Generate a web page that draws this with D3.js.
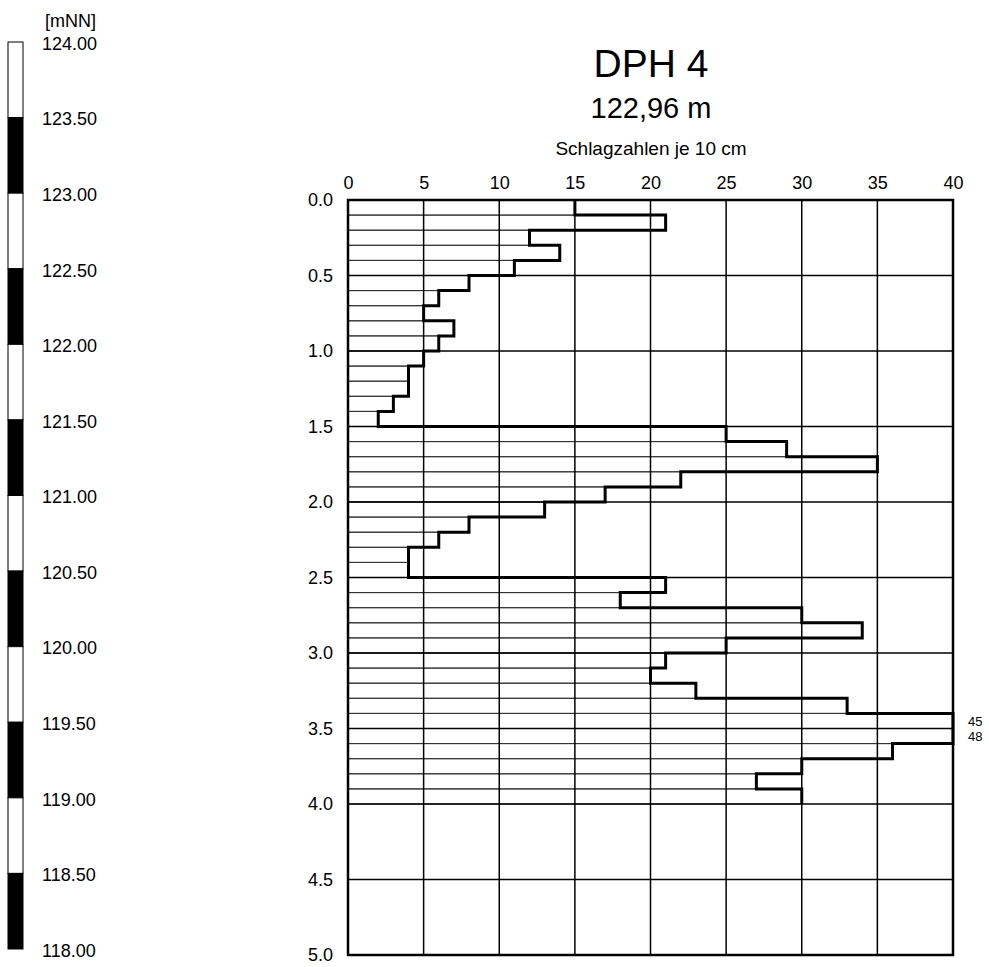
<!DOCTYPE html>
<html>
<head>
<meta charset="utf-8">
<script src="https://cdn.jsdelivr.net/npm/d3@7"></script>
<style>
  body { margin: 0; background: #fff; }
  svg { display: block; font-family: "Liberation Sans", Arial, sans-serif; }
</style>
</head>
<body>
<script>
// blow counts per 10 cm (DPH 4)
var depthTop = [0.0, 0.1, 0.2, 0.3, 0.4, 0.5, 0.6, 0.7, 0.8, 0.9,
                1.0, 1.1, 1.2, 1.3, 1.4, 1.5, 1.6, 1.7, 1.8, 1.9,
                2.0, 2.1, 2.2, 2.3, 2.4, 2.5, 2.6, 2.7, 2.8, 2.9,
                3.0, 3.1, 3.2, 3.3, 3.4, 3.5, 3.6, 3.7, 3.8, 3.9];
var blows = [15, 21, 12, 14, 11, 8, 6, 5, 7, 6,
             5, 4, 4, 3, 2, 25, 29, 35, 22, 17,
             13, 8, 6, 4, 4, 21, 18, 30, 34, 25,
             21, 20, 23, 33, 45, 48, 36, 30, 27, 30];
var blowTicks = [0, 5, 10, 15, 20, 25, 30, 35, 40];
var depthTicks = [0.0, 0.5, 1.0, 1.5, 2.0, 2.5, 3.0, 3.5, 4.0, 4.5, 5.0];
var elevTicks = [124.00, 123.50, 123.00, 122.50, 122.00, 121.50, 121.00,
                 120.50, 120.00, 119.50, 119.00, 118.50, 118.00];

var title = "DPH 4";
var subTitle = "122,96 m";
var axisTitle = "Schlagzahlen je 10 cm";
var unitLabel = "[mNN]";

var w = 989, h = 967;
var maxBlows = 40;
var step = 0.1;

var svg = d3.select("body").append("svg")
    .attr("width", w)
    .attr("height", h);

var x = d3.scaleLinear().domain([0, maxBlows]).range([348, 953]);
var y = d3.scaleLinear().domain([0, 5]).range([200, 955]);
var elev = d3.scaleLinear().domain([124, 118]).range([42, 949]);

// ---- elevation bar on the left
var segs = d3.pairs(elevTicks);
svg.append("g").selectAll("rect")
    .data(segs)
    .enter().append("rect")
    .attr("x", 8)
    .attr("width", 15)
    .attr("y", function(d) { return elev(d[0]); })
    .attr("height", function(d) { return elev(d[1]) - elev(d[0]); })
    .attr("fill", function(d, i) { return i % 2 ? "#000" : "#fff"; })
    .attr("stroke", "#000")
    .attr("stroke-width", 1);

svg.append("g").selectAll("text")
    .data(elevTicks)
    .enter().append("text")
    .attr("x", 42)
    .attr("y", function(d) { return elev(d) + 1.5; })
    .attr("dy", "0.35em")
    .style("font-size", "18px")
    .text(function(d) { return d.toFixed(2); });

svg.append("text")
    .attr("x", 45)
    .attr("y", 27)
    .style("font-size", "18px")
    .text(unitLabel);

// ---- titles
svg.append("text")
    .attr("x", 651).attr("y", 77)
    .attr("text-anchor", "middle")
    .style("font-size", "39px")
    .text(title);

svg.append("text")
    .attr("x", 651).attr("y", 118)
    .attr("text-anchor", "middle")
    .style("font-size", "29px")
    .text(subTitle);

svg.append("text")
    .attr("x", 651).attr("y", 155)
    .attr("text-anchor", "middle")
    .style("font-size", "19px")
    .text(axisTitle);

// ---- bars (thin outlines)
svg.append("g").selectAll("rect")
    .data(blows)
    .enter().append("rect")
    .attr("x", x(0))
    .attr("y", function(d, i) { return y(depthTop[i]); })
    .attr("width", function(d) { return x(Math.min(d, maxBlows)) - x(0); })
    .attr("height", y(step) - y(0))
    .attr("fill", "none")
    .attr("stroke", "#333")
    .attr("stroke-width", 1);

// ---- grid
var grid = svg.append("g").attr("stroke", "#000").attr("stroke-width", 1.5);
grid.selectAll(".vg")
    .data(blowTicks.slice(1, -1))
    .enter().append("line")
    .attr("x1", function(d) { return x(d); })
    .attr("x2", function(d) { return x(d); })
    .attr("y1", y(0)).attr("y2", y(5));
grid.selectAll(".hg")
    .data(depthTicks.slice(1, -1))
    .enter().append("line")
    .attr("y1", function(d) { return y(d); })
    .attr("y2", function(d) { return y(d); })
    .attr("x1", x(0)).attr("x2", x(maxBlows));

// ---- step outline
var pts = [];
blows.forEach(function(d, i) {
    var v = Math.min(d, maxBlows);
    pts.push([x(v), y(depthTop[i])]);
    pts.push([x(v), y(depthTop[i] + step)]);
});

svg.append("path")
    .attr("d", d3.line()(pts))
    .attr("fill", "none")
    .attr("stroke", "#000")
    .attr("stroke-width", 3)
    .attr("stroke-linejoin", "miter");

// values beyond the scale
svg.append("g").selectAll("text")
    .data(blows.map(function(d, i) { return {v: d, top: depthTop[i]}; })
        .filter(function(d) { return d.v > maxBlows; }))
    .enter().append("text")
    .attr("x", 968)
    .attr("y", function(d) { return y(d.top + step / 2); })
    .attr("dy", "0.35em")
    .style("font-size", "13px")
    .text(function(d) { return d.v; });

// ---- frame
svg.append("rect")
    .attr("x", x(0)).attr("y", y(0))
    .attr("width", x(maxBlows) - x(0))
    .attr("height", y(5) - y(0))
    .attr("fill", "none")
    .attr("stroke", "#000")
    .attr("stroke-width", 2.5);

// ---- axes
var xAxis = svg.append("g")
    .attr("transform", "translate(0," + y(0) + ")")
    .call(d3.axisTop(x).tickValues(blowTicks).tickSize(0).tickPadding(11));
xAxis.select(".domain").remove();
xAxis.selectAll("text").style("font-size", "18px").attr("fill", "#000")
    .style("font-family", "Liberation Sans, Arial, sans-serif");

var yAxis = svg.append("g")
    .attr("transform", "translate(" + x(0) + ",0)")
    .call(d3.axisLeft(y).tickValues(depthTicks).tickSize(0).tickPadding(15)
        .tickFormat(d3.format(".1f")));
yAxis.select(".domain").remove();
yAxis.selectAll("text").style("font-size", "18px").attr("fill", "#000")
    .style("font-family", "Liberation Sans, Arial, sans-serif");
</script>
</body>
</html>
